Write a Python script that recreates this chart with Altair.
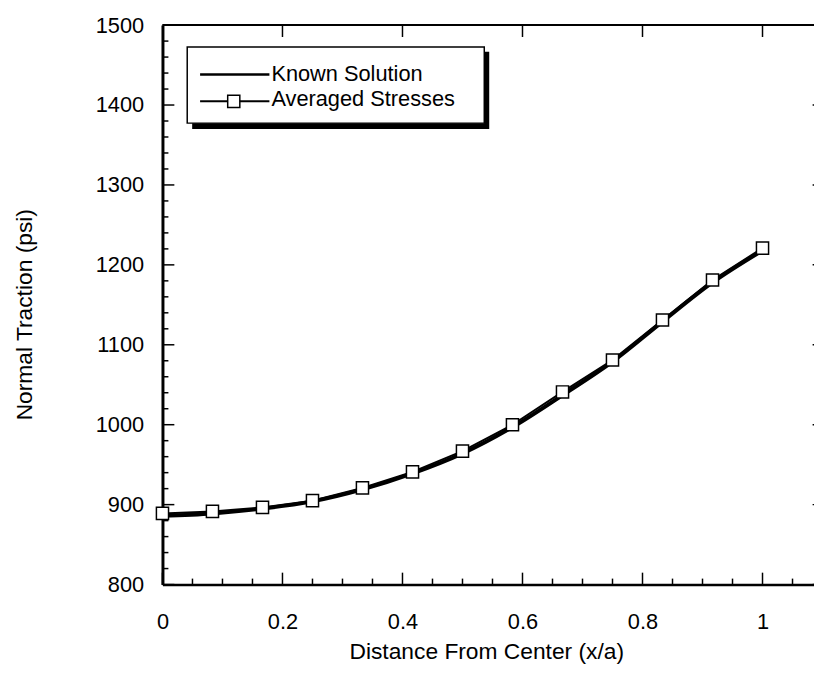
import altair as alt
import pandas as pd

# ---- data ----
x_vals = [0.0, 0.0833, 0.1667, 0.25, 0.3333, 0.4167, 0.5, 0.5833, 0.6667, 0.75, 0.8333, 0.9167, 1.0]
averaged = [889, 891.5, 896.5, 905, 921, 941, 967, 1000, 1041, 1081, 1131, 1181, 1221]
known = [886, 889, 895, 904, 919, 939, 964, 997, 1037, 1079, 1129, 1178, 1218]

x_major_ticks = [0, 0.2, 0.4, 0.6, 0.8, 1.0]
x_minor_ticks = [0.05, 0.1, 0.15, 0.25, 0.3, 0.35, 0.45, 0.5, 0.55, 0.65, 0.7, 0.75,
                 0.85, 0.9, 0.95, 1.05]
y_major_ticks = [800, 900, 1000, 1100, 1200, 1300, 1400, 1500]
y_minor_ticks = [820, 840, 860, 880, 920, 940, 960, 980, 1020, 1040, 1060, 1080,
                 1120, 1140, 1160, 1180, 1220, 1240, 1260, 1280, 1320, 1340, 1360, 1380,
                 1420, 1440, 1460, 1480]
legend_labels = ["Known Solution", "Averaged Stresses"]

FONT = "Liberation Sans"
W, H = 650, 565
XR = 666.6  # scale range extends past the visible edge (frame is cropped in the reference)

xscale = alt.Scale(domain=[0, 1.1], range=[0, XR], nice=False, zero=False)
yscale = alt.Scale(domain=[800, 1500], nice=False, zero=False)

df_known = pd.DataFrame({"x": x_vals, "v": known})
df_avg = pd.DataFrame({"x": x_vals, "v": averaged})

xaxis = alt.Axis(values=x_major_ticks, format="~g", title="Distance From Center (x/a)",
                 domainWidth=2.5, labelPadding=27, labelFlush=False, labelOverlap=False,
                 titleX=327, titleY=75, titleBaseline="alphabetic", titleAlign="center")
yaxis = alt.Axis(values=y_major_ticks, format="d", title="Normal Traction (psi)",
                 domainWidth=3, labelPadding=19, labelFlush=False, labelOverlap=False,
                 titleAngle=270, titleX=-132, titleY=292, titleBaseline="alphabetic",
                 titleAlign="center")

known_line = alt.Chart(df_known).mark_line(color="black", strokeWidth=4, interpolate="monotone").encode(
    x=alt.X("x:Q", scale=xscale, axis=xaxis),
    y=alt.Y("v:Q", scale=yscale, axis=yaxis),
)
avg_line = alt.Chart(df_avg).mark_line(color="black", strokeWidth=2).encode(
    x=alt.X("x:Q", scale=xscale),
    y=alt.Y("v:Q", scale=yscale),
)
avg_pts = alt.Chart(df_avg).mark_point(shape="square", filled=True, fill="white", stroke="black",
                                       strokeWidth=1.5, size=150, opacity=1).encode(
    x=alt.X("x:Q", scale=xscale),
    y=alt.Y("v:Q", scale=yscale),
)

def xticks(vals, y0, y1):
    return alt.Chart(pd.DataFrame({"x": vals})).mark_rule(color="black", strokeWidth=1.5).encode(
        x=alt.X("x:Q", scale=xscale), y=alt.value(y0), y2=alt.value(y1))

def yticks(vals, x0, x1):
    return alt.Chart(pd.DataFrame({"v": vals})).mark_rule(color="black", strokeWidth=1.5).encode(
        y=alt.Y("v:Q", scale=yscale), x=alt.value(x0), x2=alt.value(x1))

one = pd.DataFrame({"k": [0]})
top_line = alt.Chart(one).mark_rule(color="black", strokeWidth=2).encode(
    x=alt.value(0), x2=alt.value(XR), y=alt.value(0))

ticks = [
    xticks(x_major_ticks, H, H - 12),
    xticks(x_minor_ticks, H, H - 6),
    xticks(x_major_ticks[1:], 0, 12),
    yticks(y_major_ticks, 0, 12),
    yticks(y_minor_ticks, 0, 6),
    yticks(y_major_ticks, XR - 10, XR),
]

# legend (drawn box with shadow)
shadow = alt.Chart(one).mark_rect(color="black").encode(
    x=alt.value(30), x2=alt.value(330), y=alt.value(27), y2=alt.value(105))
box = alt.Chart(one).mark_rect(fill="white", stroke="black", strokeWidth=1.5).encode(
    x=alt.value(25), x2=alt.value(325), y=alt.value(22), y2=alt.value(99))
leg_l1 = alt.Chart(one).mark_rule(color="black", strokeWidth=2.5).encode(
    x=alt.value(38), x2=alt.value(108), y=alt.value(50))
leg_l2 = alt.Chart(one).mark_rule(color="black", strokeWidth=2).encode(
    x=alt.value(38), x2=alt.value(108), y=alt.value(77))
leg_sq = alt.Chart(one).mark_point(shape="square", filled=True, fill="white", stroke="black",
                                   strokeWidth=1.5, size=150, opacity=1).encode(
    x=alt.value(72), y=alt.value(77))
leg_t1 = alt.Chart(pd.DataFrame({"lab": [legend_labels[0]]})).mark_text(
    font=FONT, fontSize=22, align="left", baseline="middle", color="black").encode(
    x=alt.value(110), y=alt.value(49), text="lab:N")
leg_t2 = alt.Chart(pd.DataFrame({"lab": [legend_labels[1]]})).mark_text(
    font=FONT, fontSize=22, align="left", baseline="middle", color="black").encode(
    x=alt.value(110), y=alt.value(75), text="lab:N")

chart = alt.layer(
    known_line, avg_line, avg_pts, top_line, *ticks,
    shadow, box, leg_l1, leg_l2, leg_sq, leg_t1, leg_t2,
).properties(
    width=W, height=H,
    autosize=alt.AutoSizeParams(type="none"),
    padding={"left": 156, "top": 14, "right": 8, "bottom": 80},
    background="white",
).configure_view(strokeWidth=0).configure_axis(
    ticks=False, tickSize=0, grid=False, domainColor="black",
    labelFont=FONT, labelFontSize=22, labelColor="black",
    titleFont=FONT, titleFontSize=23, titleFontWeight="normal", titleColor="black",
)

chart.save("out.html", embed_options={"renderer": "svg", "actions": False})
